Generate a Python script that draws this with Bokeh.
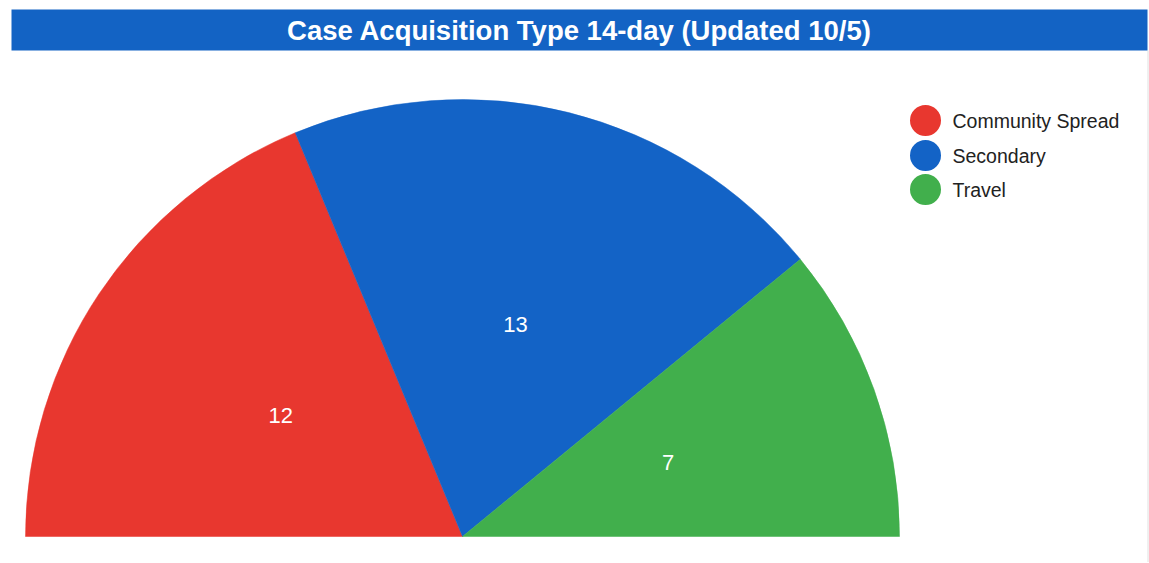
import math
from bokeh.plotting import figure
from bokeh.models import Range1d, ColumnDataSource
from bokeh.core.properties import value
from bokeh.embed import file_html
from bokeh.resources import INLINE

title_text = "Case Acquisition Type 14-day (Updated 10/5)"
categories = ["Community Spread", "Secondary", "Travel"]
counts = [12, 13, 7]
colors = ["#E8372F", "#1363C6", "#41AF4C"]

W, H = 1149, 562
p = figure(width=W, height=H, output_backend="svg", toolbar_location=None,
           x_range=Range1d(0, W), y_range=Range1d(0, H), min_border=0)
p.axis.visible = False
p.grid.visible = False
p.outline_line_color = None
p.background_fill_color = "white"
p.border_fill_color = "white"

def sx(x):
    return x

def sy(y):
    return H - y

# card border on the right
p.segment(x0=[1147.5], y0=[sy(50)], x1=[1147.5], y1=[0], line_color="#E0E0E0", line_width=1)

# title bar
p.quad(left=sx(11), right=sx(1147), bottom=sy(50), top=sy(9), fill_color="#1363C4", line_color=None)
p.text(x=[(sx(11) + sx(1147)) / 2], y=[sy(30)], text=[title_text], text_color="white",
       text_font=value("Liberation Sans"), text_font_style="bold", text_font_size="27.5px",
       text_align="center", text_baseline="middle")

# semi pie
cx, cy, R = sx(462), sy(536), 437
total = sum(counts)
cum = [0]
for c in counts:
    cum.append(cum[-1] + c)
starts = [math.pi - cum[i] * math.pi / total for i in range(len(counts))]
ends = [math.pi - cum[i + 1] * math.pi / total for i in range(len(counts))]
mids = [(s + e) / 2 for s, e in zip(starts, ends)]
src = ColumnDataSource(dict(start=starts, end=ends, color=colors,
                            lx=[cx + 0.5 * R * math.cos(m) for m in mids],
                            ly=[cy + 0.5 * R * math.sin(m) for m in mids],
                            lab=[str(c) for c in counts]))
p.wedge(x=cx, y=cy, radius=R, start_angle="start", end_angle="end", direction="clock",
        fill_color="color", line_color="color", line_width=0.5, source=src)
p.text(x="lx", y="ly", text="lab", source=src, text_color="white",
       text_font=value("Liberation Sans"), text_font_size="22px",
       text_align="center", text_baseline="middle")

# legend
ly = [sy(120), sy(155), sy(189)]
p.scatter(x=[sx(925)] * 3, y=ly, size=31, marker="circle", fill_color=colors, line_color=None)
p.text(x=[sx(952)] * 3, y=ly, text=categories, text_color="#222222",
       text_font=value("Liberation Sans"), text_font_size="19.5px",
       text_align="left", text_baseline="middle")

open("out.html", "w").write(file_html(p, INLINE))
